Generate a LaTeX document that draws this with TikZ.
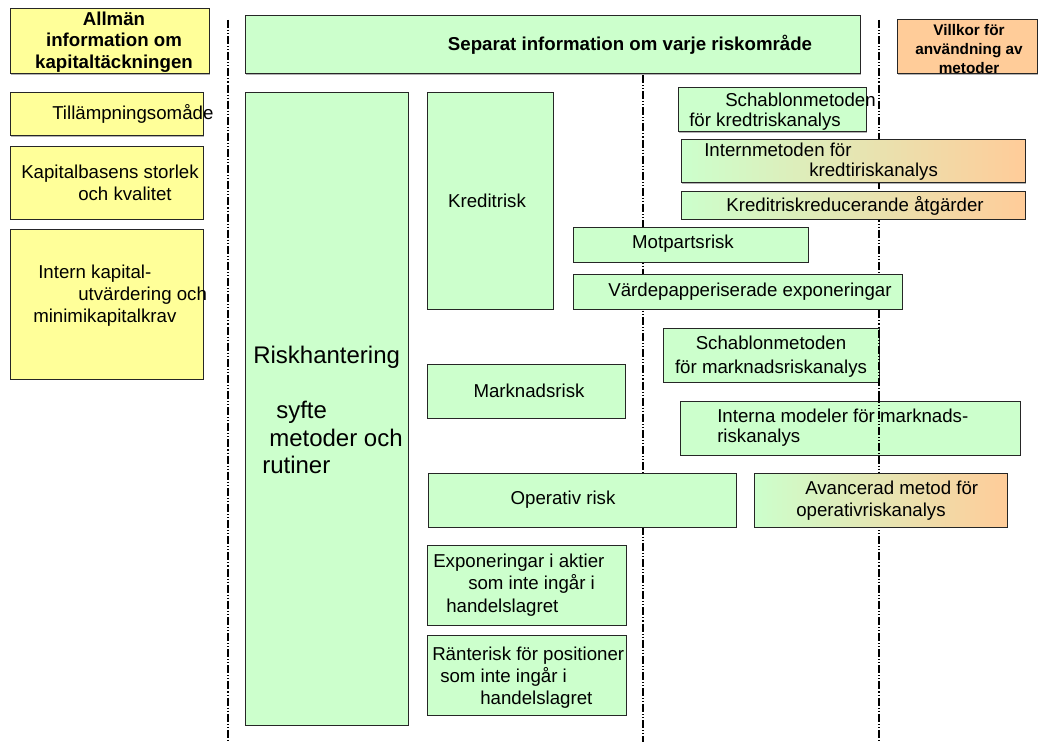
\documentclass[tikz,border=0pt]{standalone}
\usepackage{fontspec}
\setmainfont{Liberation Sans}
\usetikzlibrary{shadows}
\definecolor{gfill}{HTML}{CCFFCC}
\definecolor{yfill}{HTML}{FFFF99}
\definecolor{ofill}{HTML}{FFCC99}
\begin{document}
\begin{tikzpicture}[x=0.75pt,y=-0.75pt,
  box/.style={draw=black!85, line width=0.75pt, inner sep=0pt, outer sep=0pt, anchor=north west,
    drop shadow={shadow xshift=1pt, shadow yshift=-1pt, fill=black, opacity=0.3}},
  sz/.style 2 args={minimum width={(#1)*0.75pt}, minimum height={(#2)*0.75pt}},
  gbox/.style={box, fill=gfill},
  ybox/.style={box, fill=yfill},
  obox/.style={box, fill=ofill},
  grad/.style={box, left color=gfill, right color=ofill},
  txt/.style={inner sep=0pt, font=\fontsize{14}{16.5}\selectfont, align=left},
  ctxt/.style={inner sep=0pt, font=\fontsize{14}{16.5}\selectfont, align=center},
  btxt/.style={inner sep=0pt, font=\bfseries\fontsize{14}{16}\selectfont, align=center},
  sepline/.style={line width=1pt, dash pattern=on 6pt off 1.5pt on 0.8pt off 1.5pt on 0.8pt off 1.5pt}
]
\useasboundingbox (0,0) rectangle (1051,742);

% separator lines
\coordinate (l1a) at (228,20);  \coordinate (l1b) at (228,742);
\coordinate (l2a) at (643,75);  \coordinate (l2b) at (643,742);
\coordinate (l3a) at (879,20);  \coordinate (l3b) at (879,742);
\draw[sepline] (l1a) -- (l1b);
\draw[sepline] (l2a) -- (l2b);
\draw[sepline] (l3a) -- (l3b);

% left column
\node[ybox, sz={199}{65}] (allman) at (10,9) {};
\node[btxt] (allmanT) at (114,42) {Allmän\\information om\\kapitaltäckningen};
\node[ybox, sz={193}{43}] (till) at (10,93) {};
\node[txt, anchor=west] (tillT) at (52,114) {Tillämpningsomåde};
\node[ybox, sz={193}{72}] (kapbas) at (10,147) {};
\node[txt, anchor=west] (kapbasT) at (21,183) {Kapitalbasens storlek\\\hspace*{42.75pt}och kvalitet};
\node[ybox, sz={193}{150}] (intern) at (10,229) {};
\node[txt, anchor=west] (internT) at (33,296) {\hspace*{3.75pt}Intern kapital-\\\hspace*{33.75pt}utvärdering och\\minimikapitalkrav};

% top row
\node[gbox, sz={615}{58}] (separat) at (245,16) {};
\node[btxt] (separatT) at (630,45) {Separat information om varje riskområde};
\node[obox, sz={140}{54}] (villkor) at (897,20) {};
\node[btxt, font=\bfseries\fontsize{11.5}{14.5}\selectfont] (villkorT) at (969,49) {Villkor för\\användning av\\metoder};

% Riskhantering
\node[gbox, sz={163}{632}] (risk) at (245,93) {};
\node[txt, anchor=west, font=\fontsize{18}{20.6}\selectfont] (riskT) at (253,410)
  {Riskhantering\\[20.6pt]\hspace*{17.25pt}syfte\\\hspace*{12pt}metoder och\\\hspace*{6.75pt}rutiner};

% Kreditrisk group
\node[gbox, sz={126}{216}] (kredit) at (427,93) {};
\node[ctxt] (kreditT) at (487,201) {Kreditrisk};
\node[gbox, sz={188}{44}] (schakred) at (678,88) {};
\node[txt, anchor=west, font=\fontsize{14}{15}\selectfont] (schakredT) at (689,112) {\hspace*{27pt}Schablonmetoden\\för kredtriskanalys};
\node[grad, sz={344}{43}] (internmet) at (681,140) {};
\node[txt, anchor=west, font=\fontsize{14}{15}\selectfont] (internmetT) at (704,162) {Internmetoden för\\\hspace*{78.75pt}kredtiriskanalys};
\node[grad, sz={344}{27}] (krr) at (681,192) {};
\node[ctxt] (krrT) at (855,206) {Kreditriskreducerande åtgärder};
\node[gbox, sz={235}{35}] (motp) at (573,227) {};
\node[ctxt] (motpT) at (683,244) {Motpartsrisk};
\node[gbox, sz={329}{35}] (vardep) at (573,274) {};
\node[ctxt] (vardepT) at (750,292) {Värdepapperiserade exponeringar};

% Marknadsrisk group
\node[gbox, sz={216}{54}] (schamark) at (663,328) {};
\node[ctxt, font=\fontsize{14}{18}\selectfont] (schamarkT) at (771,357) {Schablonmetoden\\för marknadsriskanalys};
\node[gbox, sz={198}{54}] (marknad) at (427,364) {};
\node[ctxt] (marknadT) at (529,391) {Marknadsrisk};
\node[gbox, sz={340}{54}] (internamod) at (680,401) {};
\node[txt, anchor=west, font=\fontsize{14}{15}\selectfont] (internamodT) at (717,428) {Interna modeler för marknads-\\riskanalys};

% overlay segment of right separator
\coordinate (l3c) at (879,330); \coordinate (l3d) at (879,458);
\draw[sepline] (l3c) -- (l3d);

% Operativ risk
\node[gbox, sz={308}{54}] (operativ) at (428,473) {};
\node[ctxt] (operativT) at (563,500) {Operativ risk};
\node[grad, sz={253}{54}] (avanc) at (754,473) {};
\node[txt, anchor=west] (avancT) at (796,501) {\hspace*{6.75pt}Avancerad metod för\\operativriskanalys};

% bottom boxes
\node[gbox, sz={199}{80}] (expon) at (427,545) {};
\node[txt, anchor=west, font=\fontsize{14}{17}\selectfont] (exponT) at (433,585) {Exponeringar i aktier\\\hspace*{26.25pt}som inte ingår i\\\hspace*{9.75pt}handelslagret};
\node[gbox, sz={199}{80}] (ranter) at (427,635) {};
\node[txt, anchor=west, font=\fontsize{14}{16.5}\selectfont] (ranterT) at (432,678) {Ränterisk för positioner\\\hspace*{6pt}som inte ingår i\\\hspace*{36pt}handelslagret};
\end{tikzpicture}
\end{document}
